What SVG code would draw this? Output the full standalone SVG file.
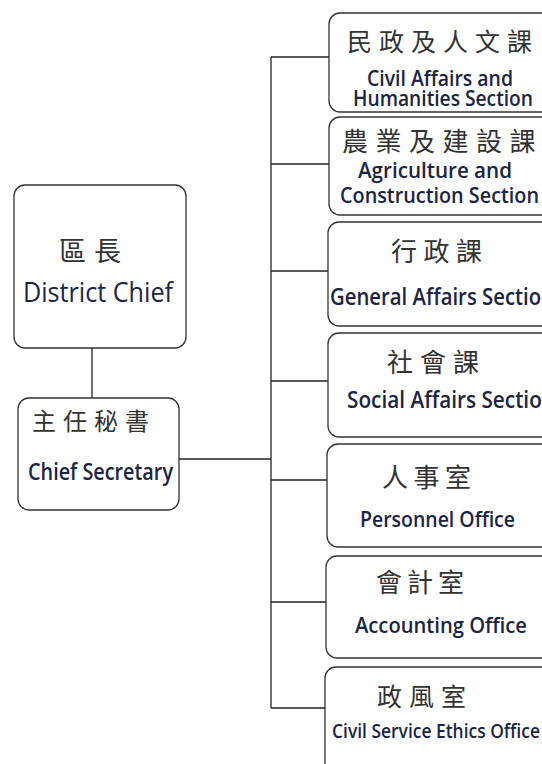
<svg xmlns="http://www.w3.org/2000/svg" width="542" height="764" viewBox="0 0 542 764">
<style>
.box{fill:#fff;stroke:#333;stroke-width:1.3}
.conn{fill:none;stroke:#222;stroke-width:1.3}
.zh{font-family:"Noto Sans CJK TC","Noto Sans CJK SC",sans-serif;fill:#333;font-weight:400}
.en{font-family:"Open Sans","Noto Sans",sans-serif;fill:#1c2541;font-weight:600}
.reg{font-weight:400}
</style>
<rect x="0" y="0" width="542" height="764" fill="#fff"/>
<g id="connectors">
<line class="conn" x1="92" y1="348" x2="92" y2="398"/>
<line class="conn" x1="179" y1="459" x2="271" y2="459"/>
<line class="conn" x1="271" y1="57" x2="271" y2="708"/>
<line class="conn" x1="271" y1="57" x2="329" y2="57"/>
<line class="conn" x1="271" y1="164" x2="329" y2="164"/>
<line class="conn" x1="271" y1="271" x2="328" y2="271"/>
<line class="conn" x1="271" y1="381" x2="328" y2="381"/>
<line class="conn" x1="271" y1="480" x2="327" y2="480"/>
<line class="conn" x1="271" y1="602" x2="326" y2="602"/>
<line class="conn" x1="271" y1="708" x2="325" y2="708"/>
</g>
<g id="district-chief">
<rect class="box" x="14" y="185" width="172" height="163" rx="11"/>
<text class="zh" x="59" y="261" font-size="27" letter-spacing="8">區長</text>
<text class="en reg" x="23" y="302" font-size="27" textLength="150" lengthAdjust="spacingAndGlyphs">District Chief</text>
</g>
<g id="chief-secretary">
<rect class="box" x="18" y="398" width="161" height="112" rx="11"/>
<text class="zh" x="32" y="430" font-size="24" letter-spacing="7">主任秘書</text>
<text class="en" x="28" y="480" font-size="23" textLength="145" lengthAdjust="spacingAndGlyphs">Chief Secretary</text>
</g>
<g id="civil-affairs">
<rect class="box" x="329" y="13" width="240" height="99" rx="11"/>
<text class="zh" x="347" y="51" font-size="25" letter-spacing="7">民政及人文課</text>
<text class="en" x="367" y="86" font-size="21" textLength="146" lengthAdjust="spacingAndGlyphs">Civil Affairs and</text>
<text class="en" x="353" y="106" font-size="21" textLength="180" lengthAdjust="spacingAndGlyphs">Humanities Section</text>
</g>
<g id="agriculture">
<rect class="box" x="329" y="117" width="240" height="98" rx="11"/>
<text class="zh" x="342" y="151" font-size="26" letter-spacing="7.5">農業及建設課</text>
<text class="en" x="358" y="178" font-size="21" textLength="154" lengthAdjust="spacingAndGlyphs">Agriculture and</text>
<text class="en" x="340" y="203" font-size="21" textLength="199" lengthAdjust="spacingAndGlyphs">Construction Section</text>
</g>
<g id="general-affairs">
<rect class="box" x="328" y="222" width="240" height="104" rx="11"/>
<text class="zh" x="391" y="261" font-size="26" letter-spacing="6.5">行政課</text>
<text class="en" x="330" y="305" font-size="23" textLength="224" lengthAdjust="spacingAndGlyphs">General Affairs Section</text>
</g>
<g id="social-affairs">
<rect class="box" x="328" y="333" width="240" height="104" rx="11"/>
<text class="zh" x="387" y="372" font-size="26" letter-spacing="7">社會課</text>
<text class="en" x="347" y="408" font-size="23" textLength="208" lengthAdjust="spacingAndGlyphs">Social Affairs Section</text>
</g>
<g id="personnel">
<rect class="box" x="327" y="444" width="240" height="103" rx="11"/>
<text class="zh" x="382" y="487" font-size="26" letter-spacing="5.5">人事室</text>
<text class="en" x="360" y="527" font-size="22" textLength="155" lengthAdjust="spacingAndGlyphs">Personnel Office</text>
</g>
<g id="accounting">
<rect class="box" x="326" y="556" width="240" height="102" rx="11"/>
<text class="zh" x="376" y="592" font-size="26" letter-spacing="5">會計室</text>
<text class="en" x="355" y="633" font-size="22" textLength="172" lengthAdjust="spacingAndGlyphs">Accounting Office</text>
</g>
<g id="ethics">
<rect class="box" x="325" y="667" width="240" height="130" rx="11"/>
<text class="zh" x="377" y="706" font-size="25" letter-spacing="7">政風室</text>
<text class="en" x="332" y="738" font-size="19" textLength="208" lengthAdjust="spacingAndGlyphs">Civil Service Ethics Office</text>
</g>
</svg>
